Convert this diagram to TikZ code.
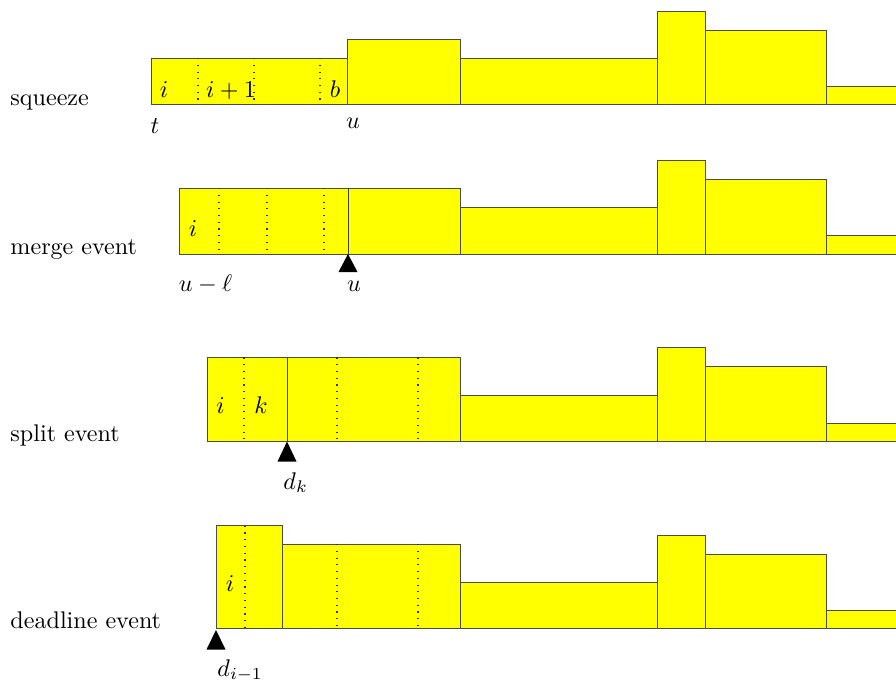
\documentclass[tikz,border=0pt]{standalone}
\definecolor{yel}{RGB}{255,255,0}
\begin{document}
\begin{tikzpicture}[x=0.415pt,y=-0.415pt,
  blk/.style={fill=yel,draw=black!70,line width=0.4pt},
  sepline/.style={line width=0.5pt,black!80,dash pattern=on 0.5pt off 2.3pt},
  solidsep/.style={line width=0.4pt,black!75},
  tri/.style={fill=black},
  lbl/.style={inner sep=0pt,anchor=base west},
  mlbl/.style={inner sep=0pt,anchor=base}]
\useasboundingbox (0,0) rectangle (896,682);
\clip (0,0) rectangle (896,682);
% ---------- row 1: squeeze ----------
\draw[blk] (151,104) rectangle (347,58);
\draw[blk] (347,104) rectangle (460,39);
\draw[blk] (460,104) rectangle (657,58);
\draw[blk] (657,104) rectangle (705,11);
\draw[blk] (705,104) rectangle (826,30);
\draw[blk] (826,104) rectangle (900,86);
\draw[sepline] (198,58) -- (198,104);
\draw[sepline] (254,58) -- (254,104);
\draw[sepline] (320,58) -- (320,104);
\node[lbl] (lsq) at (10,105) {squeeze};
\node[mlbl] (i1) at (164,97) {$i$};
\node[mlbl] (ip1) at (231,97) {$i+1$};
\node[mlbl] (b1) at (335,97) {$b$};
\node[mlbl] (t1) at (155,133) {$t$};
\node[mlbl] (u1) at (353,128) {$u$};
% ---------- row 2: merge event ----------
\draw[blk] (179,254) rectangle (460,188);
\draw[blk] (460,254) rectangle (657,207.5);
\draw[blk] (657,254) rectangle (705,160.5);
\draw[blk] (705,254) rectangle (826,179.5);
\draw[blk] (826,254) rectangle (900,235.5);
\draw[sepline] (219,188) -- (219,254);
\draw[sepline] (267,188) -- (267,254);
\draw[sepline] (324,188) -- (324,254);
\draw[solidsep] (348,188) -- (348,254);
\fill[tri] (348,254) -- (338.5,272) -- (357.5,272) -- cycle;
\node[lbl] (lme) at (10,254) {merge event};
\node[mlbl] (i2) at (193,236) {$i$};
\node[mlbl] (ul2) at (205.5,291.5) {$u-\ell$};
\node[mlbl] (u2) at (354,291.5) {$u$};
% ---------- row 3: split event ----------
\draw[blk] (207,441.5) rectangle (460,357.3);
\draw[blk] (460,441.5) rectangle (657,395);
\draw[blk] (657,441.5) rectangle (705,347.7);
\draw[blk] (705,441.5) rectangle (826,366.7);
\draw[blk] (826,441.5) rectangle (900,423);
\draw[sepline] (244,357.3) -- (244,441.5);
\draw[sepline] (337,357.3) -- (337,441.5);
\draw[sepline] (418,357.3) -- (418,441.5);
\draw[solidsep] (287,357.3) -- (287,441.5);
\fill[tri] (287,441.5) -- (277.5,461.5) -- (296.5,461.5) -- cycle;
\node[lbl] (lsp) at (10,441.5) {split event};
\node[mlbl] (i3) at (220.5,413) {$i$};
\node[mlbl] (k3) at (261,413) {$k$};
\node[lbl] (dk) at (283,489) {$d_k$};
% ---------- row 4: deadline event ----------
\draw[blk] (216,628.5) rectangle (282,525.7);
\draw[blk] (282,628.5) rectangle (460,544);
\draw[blk] (460,628.5) rectangle (657,582.3);
\draw[blk] (657,628.5) rectangle (705,535.3);
\draw[blk] (705,628.5) rectangle (826,554);
\draw[blk] (826,628.5) rectangle (900,610);
\draw[sepline] (245,525.7) -- (245,628.5);
\draw[sepline] (337,544) -- (337,628.5);
\draw[sepline] (418,544) -- (418,628.5);
\fill[tri] (216,630) -- (206.5,649.5) -- (225.5,649.5) -- cycle;
\node[lbl] (lde) at (10,628.5) {deadline event};
\node[mlbl] (i4) at (230,591) {$i$};
\node[lbl] (dim) at (217,676) {$d_{i-1}$};
\end{tikzpicture}
\end{document}
